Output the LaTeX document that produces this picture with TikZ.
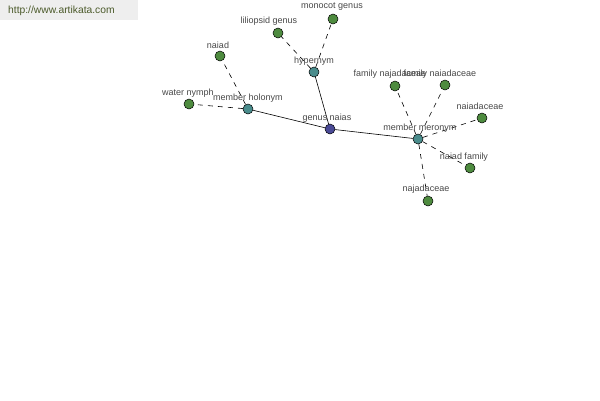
\documentclass[tikz,border=0pt]{standalone}
\usepackage{fontspec}
\setmainfont{Liberation Sans}
\begin{document}
\begin{tikzpicture}[x=1pt,y=-1pt,
  vert/.style={circle,draw=black,line width=0.5pt,minimum size=10pt,inner sep=0pt},
  leaf/.style={vert,fill=leafgreen},
  mid/.style={vert,fill=midteal},
  root/.style={vert,fill=rootblue},
  lbl/.style={font=\fontsize{9}{10}\selectfont,text=black!72,inner sep=0pt},
  solidedge/.style={draw=black,line width=0.6pt},
  dashedge/.style={draw=black,line width=0.6pt,dash pattern=on 5pt off 5pt}]
\definecolor{leafgreen}{HTML}{4E8B3F}
\definecolor{midteal}{HTML}{4A8C8C}
\definecolor{rootblue}{HTML}{4A4A96}
\definecolor{bannerbg}{HTML}{EEEEEE}
\definecolor{bannertext}{HTML}{4B5A2A}
\useasboundingbox (0,0) rectangle (600,400);
\fill[bannerbg] (0,0) rectangle (138,20);
\node[anchor=west,font=\fontsize{10.3}{11}\selectfont,text=bannertext,inner sep=0pt] (banner) at (8,11) {http://www.artikata.com};
% vertices
\node[root] (gn) at (330,129) {};
\node[mid] (hy) at (314,72) {};
\node[mid] (mh) at (248,109) {};
\node[mid] (mm) at (418,139) {};
\node[leaf] (lg) at (278,33) {};
\node[leaf] (mg) at (333,19) {};
\node[leaf] (na) at (220,56) {};
\node[leaf] (wn) at (189,104) {};
\node[leaf] (fj) at (395,86) {};
\node[leaf] (fn) at (445,85) {};
\node[leaf] (nc) at (482,118) {};
\node[leaf] (nf) at (470,168) {};
\node[leaf] (nj) at (428,201) {};
% edges
\draw[solidedge] (gn) -- (hy);
\draw[solidedge] (gn) -- (mh);
\draw[solidedge] (gn) -- (mm);
\draw[dashedge] (hy) -- (lg);
\draw[dashedge] (hy) -- (mg);
\draw[dashedge] (mh) -- (na);
\draw[dashedge] (mh) -- (wn);
\draw[dashedge] (mm) -- (fj);
\draw[dashedge] (mm) -- (fn);
\draw[dashedge] (mm) -- (nc);
\draw[dashedge] (mm) -- (nf);
\draw[dashedge] (mm) -- (nj);
% labels
\node[lbl] (lgn) at (327,118) {genus naias};
\node[lbl] (lhy) at (314,61) {hypernym};
\node[lbl] (lmh) at (248,98) {member holonym};
\node[lbl] (lmm) at (420,128) {member meronym};
\node[lbl] (llg) at (269,21) {liliopsid genus};
\node[lbl] (lmg) at (332,7) {monocot genus};
\node[lbl] (lna) at (218,45) {naiad};
\node[lbl] (lwn) at (188,93) {water nymph};
\node[lbl] (lfj) at (390,74) {family najadaceae};
\node[lbl] (lfn) at (440,74) {family naiadaceae};
\node[lbl] (lnc) at (480,106) {naiadaceae};
\node[lbl] (lnf) at (464,157) {naiad family};
\node[lbl] (lnj) at (426,189) {najadaceae};
\end{tikzpicture}
\end{document}
